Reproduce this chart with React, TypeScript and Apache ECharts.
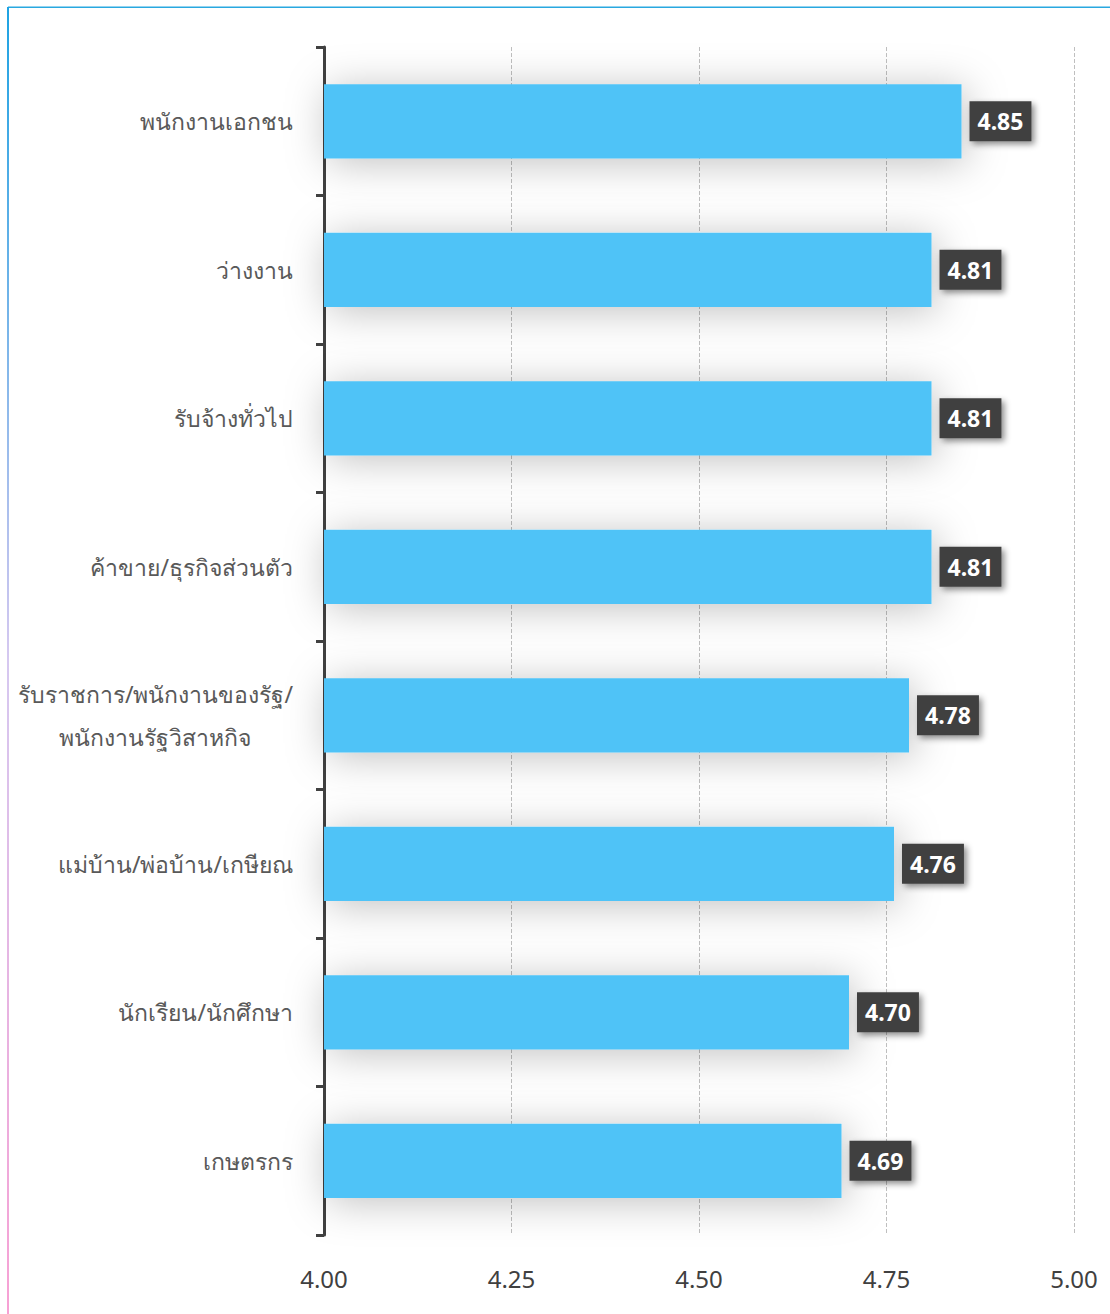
import React, { useEffect, useRef } from "react";
import * as echarts from "echarts";

const categories = [
  "พนักงานเอกชน",
  "ว่างงาน",
  "รับจ้างทั่วไป",
  "ค้าขาย/ธุรกิจส่วนตัว",
  "รับราชการ/พนักงานของรัฐ/\nพนักงานรัฐวิสาหกิจ",
  "แม่บ้าน/พ่อบ้าน/เกษียณ",
  "นักเรียน/นักศึกษา",
  "เกษตรกร",
];
const values = [4.85, 4.81, 4.81, 4.81, 4.78, 4.76, 4.7, 4.69];
const axisMin = 4.0;
const axisMax = 5.0;
const axisStep = 0.25;

export default function App() {
  const ref = useRef<HTMLDivElement>(null);
  useEffect(() => {
    if (!ref.current) return;
    const chart = echarts.init(ref.current, undefined, { renderer: "svg" });
    const font = "'Noto Sans', 'Open Sans', sans-serif";
    chart.setOption({
      animation: false,
      backgroundColor: "#ffffff",
      grid: { left: 324, right: 36, top: 47, bottom: 79, containLabel: false },
      xAxis: {
        type: "value",
        min: axisMin,
        max: axisMax,
        interval: axisStep,
        axisLine: { show: false },
        axisTick: { show: false },
        axisLabel: {
          color: "#404040",
          fontSize: 24,
          fontFamily: font,
          margin: 31,
          formatter: (v: number) => v.toFixed(2),
        },
        splitLine: {
          show: true,
          lineStyle: { color: "#bfbfbf", type: "dashed", width: 1 },
        },
      },
      yAxis: {
        type: "category",
        data: categories,
        inverse: true,
        axisLine: { show: true, lineStyle: { color: "#404040", width: 3 } },
        axisTick: {
          show: true,
          length: 8,
          lineStyle: { color: "#404040", width: 3 },
        },
        axisLabel: {
          color: "#595959",
          fontSize: 23,
          fontFamily: font,
          margin: 31,
          formatter: (v: string) =>
            v.includes("\n")
              ? v
                  .split("\n")
                  .map((s) => "{m|" + s + "}")
                  .join("\n")
              : v,
          rich: {
            m: {
              align: "center",
              fontSize: 23,
              lineHeight: 43,
              color: "#595959",
              fontFamily: font,
            },
          },
        },
        splitLine: { show: false },
      },
      series: [
        {
          type: "bar",
          data: values,
          barWidth: "50%",
          itemStyle: {
            color: "#4fc3f7",
            shadowBlur: 40,
            shadowColor: "rgba(0,0,0,0.25)",
            shadowOffsetX: 4,
            shadowOffsetY: 4,
          },
          label: {
            show: true,
            position: "right",
            distance: 8,
            formatter: (p: any) => Number(p.value).toFixed(2),
            color: "#ffffff",
            fontWeight: "bold",
            fontSize: 23,
            fontFamily: font,
            backgroundColor: "#404040",
            padding: [9, 8, 8, 8],
            shadowBlur: 6,
            shadowOffsetX: 3,
            shadowOffsetY: 3,
            shadowColor: "rgba(0,0,0,0.45)",
          },
        },
      ],
      graphic: [
        {
          type: "rect",
          shape: { x: 8, y: 6.5, width: 1102, height: 1.5 },
          style: { fill: "#29a8e0" },
        },
        {
          type: "rect",
          shape: { x: 7, y: 7, width: 2, height: 1307 },
          style: {
            fill: new echarts.graphic.LinearGradient(0, 0, 0, 1, [
              { offset: 0, color: "#1ea3e3" },
              { offset: 0.5, color: "#d6c8f0" },
              { offset: 1, color: "#f7a1d4" },
            ]),
          },
        },
      ],
    });
    return () => chart.dispose();
  }, []);
  return (
    <div
      ref={ref}
      style={{ position: "absolute", left: 0, top: 0, width: 1110, height: 1314 }}
    />
  );
}
